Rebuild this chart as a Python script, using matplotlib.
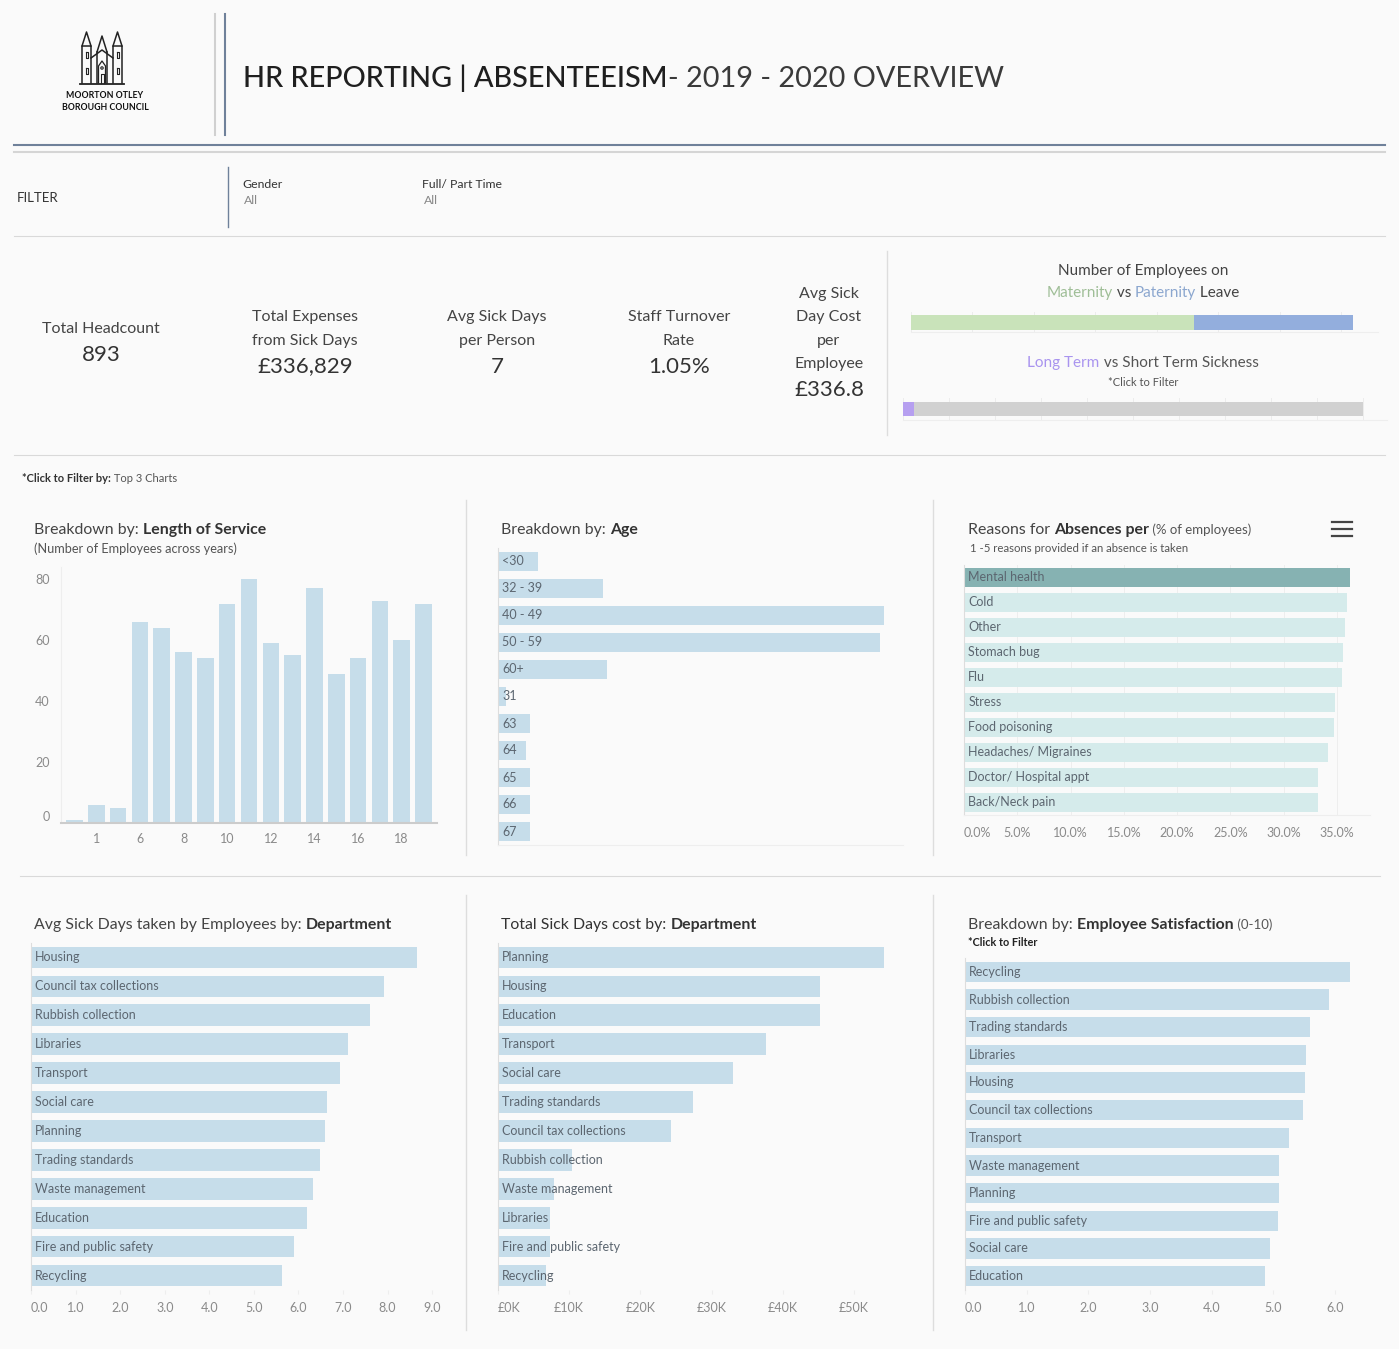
import numpy as np
import matplotlib
matplotlib.use("Agg")
import matplotlib.pyplot as plt
from matplotlib.lines import Line2D

plt.rcParams['font.family'] = ['Lato', 'DejaVu Sans']

# ---- data ----
kpi_labels = ['Total Headcount', 'Total Expenses\nfrom Sick Days', 'Avg Sick Days\nper Person',
              'Staff Turnover\nRate', 'Avg Sick\nDay Cost\nper\nEmployee']
kpi_values = ['893', '£336,829', '7', '1.05%', '£336.8']

leave_types = ['Maternity', 'Paternity']
leave_counts = [23, 13]

sick_types = ['Long Term', 'Short Term']
sick_counts = [24, 976]

service_years = ['0', '1', '3', '6', '7', '8', '9', '10', '11', '12', '13', '14', '15', '16', '17', '18', '19']
service_counts = [1, 6, 5, 66, 64, 56, 54, 72, 80, 59, 55, 77, 49, 54, 73, 60, 72]

age_groups = ['<30', '32 - 39', '40 - 49', '50 - 59', '60+', '31', '63', '64', '65', '66', '67']
age_counts = [10, 26, 96, 95, 27, 2, 8, 7, 8, 8, 8]

reasons = ['Mental health', 'Cold', 'Other', 'Stomach bug', 'Flu', 'Stress', 'Food poisoning',
           'Headaches/ Migraines', 'Doctor/ Hospital appt', 'Back/Neck pain']
reason_pct = [36.2, 35.9, 35.8, 35.6, 35.5, 34.8, 34.7, 34.2, 33.2, 33.2]

dept_days = ['Housing', 'Council tax collections', 'Rubbish collection', 'Libraries', 'Transport',
             'Social care', 'Planning', 'Trading standards', 'Waste management', 'Education',
             'Fire and public safety', 'Recycling']
avg_sick_days = [8.67, 7.93, 7.61, 7.12, 6.94, 6.65, 6.60, 6.49, 6.33, 6.20, 5.91, 5.64]

dept_cost = ['Planning', 'Housing', 'Education', 'Transport', 'Social care', 'Trading standards',
             'Council tax collections', 'Rubbish collection', 'Waste management', 'Libraries',
             'Fire and public safety', 'Recycling']
sick_cost_k = [54.2, 45.3, 45.3, 37.6, 33.0, 27.4, 24.3, 10.4, 7.9, 7.3, 7.3, 6.8]

dept_sat = ['Recycling', 'Rubbish collection', 'Trading standards', 'Libraries', 'Housing',
            'Council tax collections', 'Transport', 'Waste management', 'Planning',
            'Fire and public safety', 'Social care', 'Education']
satisfaction = [6.25, 5.90, 5.59, 5.53, 5.51, 5.48, 5.25, 5.09, 5.09, 5.07, 4.94, 4.86]

# ---- styling ----
W, H = 1399, 1349
BG = '#fafafa'
BAR = '#c6ddea'
DARK = '#333333'
TICK = '#8a8a8a'
SEP = '#d9d9d9'
NAVY = '#6f819a'
INBAR = '#5c6670'
TS = 11.4  # chart title size

fig = plt.figure(figsize=(W / 100, H / 100), dpi=100)
fig.patch.set_facecolor(BG)
renderer = fig.canvas.get_renderer()


def fx(x):
    return x / W


def fy(y):
    return 1 - y / H


def add_ax(left, top, right, bottom):
    ax = fig.add_axes([fx(left), fy(bottom), (right - left) / W, (bottom - top) / H])
    ax.set_facecolor('none')
    for s in ax.spines.values():
        s.set_visible(False)
    return ax


def hline(y, x0, x1, color=SEP, lw=0.8):
    fig.add_artist(Line2D([fx(x0), fx(x1)], [fy(y), fy(y)], color=color, lw=lw))


def vline(x, y0, y1, color=SEP, lw=0.8):
    fig.add_artist(Line2D([fx(x), fx(x)], [fy(y0), fy(y1)], color=color, lw=lw))


def rich(x, y, parts, ha='left'):
    # parts: list of (text, size, color, weight); y is the baseline in pixels
    widths = []
    for s, size, color, weight in parts:
        t = fig.text(0, 0, s, fontsize=size, fontweight=weight)
        widths.append(t.get_window_extent(renderer=renderer).width)
        t.remove()
    cur = x - sum(widths) / 2 if ha == 'center' else x
    for (s, size, color, weight), w in zip(parts, widths):
        fig.text(fx(cur), fy(y), s, fontsize=size, color=color, fontweight=weight, va='baseline')
        cur += w


# ---- header ----
lg = add_ax(78, 28, 126, 86)
lg.set_xlim(0, 48)
lg.set_ylim(58, 0)
lg.set_xticks([])
lg.set_yticks([])
kw = dict(color='#222222', lw=1.1)
for x0 in (4, 35):
    lg.plot([x0, x0 + 4.5, x0 + 9], [18, 4, 18], **kw)
    lg.plot([x0, x0, x0 + 9, x0 + 9], [55, 18, 18, 55], **kw)
    lg.plot([x0 + 3.5, x0 + 3.5, x0 + 5.5, x0 + 5.5, x0 + 3.5], [24, 30, 30, 24, 24], color='#222222', lw=0.8)
    lg.plot([x0 + 3.5, x0 + 3.5, x0 + 5.5, x0 + 5.5, x0 + 3.5], [40, 46, 46, 40, 40], color='#222222', lw=0.8)
lg.plot([19, 24, 29], [24, 8, 24], **kw)
lg.plot([13, 24, 35], [30, 22, 30], **kw)
lg.plot([19, 19], [24, 55], **kw)
lg.plot([29, 29], [24, 55], **kw)
lg.plot([20.5, 20.5, 24, 27.5, 27.5], [55, 38, 33, 38, 55], color='#222222', lw=0.9)
lg.plot([22.5, 22.5, 25.5, 25.5], [55, 46, 46, 55], color='#222222', lw=0.8)
lg.add_patch(plt.Circle((24, 40), 1.2, fill=False, color='#222222', lw=0.8))
lg.plot([2, 46], [55.5, 55.5], color='#222222', lw=1.3)
fig.text(fx(105), fy(95), 'MOORTON OTLEY', fontsize=6.3, color='#111111', ha='center', va='center', fontweight='bold')
fig.text(fx(105), fy(107), 'BOROUGH COUNCIL', fontsize=6.3, color='#111111', ha='center', va='center', fontweight='bold')

vline(215, 14, 135, color='#d0d0d0', lw=1.5)
vline(225, 14, 135, color=NAVY, lw=1.5)
rich(243, 87, [('HR REPORTING | ABSENTEEISM', 20.8, '#1f1f1f', 'medium'),
               ('- 2019 - 2020 OVERVIEW', 20.8, '#3a3a3a', 'normal')])
hline(145, 14, 1385, color=NAVY, lw=1.5)
hline(152, 14, 1385, color='#d5d5d5', lw=1.5)

# ---- filter strip ----
fig.text(fx(17), fy(198), 'FILTER', fontsize=9.5, color=DARK, va='center')
vline(228, 167, 227, color=NAVY, lw=1.0)
for x, lab in [(242, 'Gender'), (422, 'Full/ Part Time')]:
    fig.text(fx(x), fy(184), lab, fontsize=8.8, color=DARK, va='center')
    fig.text(fx(x + 2), fy(201), 'All', fontsize=8.8, color='#888888', va='center')
hline(236, 14, 1385)

# ---- KPIs ----
kpi_x = [101, 305, 497, 679, 829]
for x, lab, val in zip(kpi_x, kpi_labels, kpi_values):
    n = lab.count('\n') + 1
    fig.text(fx(x), fy(329), lab, fontsize=11.5, color='#444444', ha='center', va='center', linespacing=1.85)
    fig.text(fx(x), fy(329 + (n - 1) * 11.5 + 26), val, fontsize=16, color=DARK, ha='center', va='center')

vline(887, 251, 435, color='#dddddd', lw=1.0)

fig.text(fx(1143), fy(271), 'Number of Employees on', fontsize=11, color='#444444', ha='center', va='center')
rich(1143, 297, [('Maternity', 11, '#9fbe97', 'normal'), (' vs ', 11, '#444444', 'normal'),
                 ('Paternity', 11, '#8ca7cf', 'normal'), (' Leave', 11, '#444444', 'normal')], ha='center')

ax = add_ax(911, 312, 1378, 332)
ax.barh([0], [leave_counts[0]], height=0.75, color='#c9e3ba', zorder=2)
ax.barh([0], [leave_counts[1]], left=leave_counts[0], height=0.75, color='#93aedd', zorder=2)
ax.set_xlim(0, 38)
ax.set_ylim(-0.5, 0.5)
ax.set_xticks(np.arange(0, 40, 5))
ax.grid(axis='x', color='#ececec', lw=0.7, zorder=0)
ax.set_yticks([])
ax.tick_params(length=0, labelbottom=False)
ax.spines['bottom'].set_visible(True)
ax.spines['bottom'].set_color('#eeeeee')

rich(1143, 367, [('Long Term', 11, '#a994ef', 'normal'), (' vs Short Term Sickness', 11, '#555555', 'normal')], ha='center')
fig.text(fx(1143), fy(382), '*Click to Filter', fontsize=8, color='#555555', ha='center', va='center')

ax = add_ax(903, 398, 1387, 420)
ax.barh([0], [sick_counts[0]], height=0.65, color='#b69ff0', zorder=2)
ax.barh([0], [sick_counts[1]], left=sick_counts[0], height=0.65, color='#d1d1d1', zorder=2)
ax.set_xlim(0, 1052)
ax.set_ylim(-0.5, 0.5)
ax.set_xticks(np.arange(0, 1100, 100))
ax.grid(axis='x', color='#ececec', lw=0.7, zorder=0)
ax.set_yticks([])
ax.tick_params(length=0, labelbottom=False)
ax.spines['bottom'].set_visible(True)
ax.spines['bottom'].set_color('#eeeeee')

hline(455, 14, 1385)
rich(22, 482, [('*Click to Filter by:', 8, DARK, 'bold'), (' Top 3 Charts', 8, '#555555', 'normal')])

# ---- separators for chart grid ----
for x in (466, 933):
    vline(x, 500, 855, color='#dddddd', lw=1.0)
    vline(x, 895, 1330, color='#dddddd', lw=1.0)
hline(876, 20, 1380)


def hbar_chart(ax, labels, values, xmax, ticks, ticklabels, colors=None, height=0.75):
    y = np.arange(len(labels))
    ax.barh(y, values, height=height, color=colors if colors else BAR, zorder=2)
    ax.set_ylim(len(labels) - 0.5, -0.5)
    ax.set_xlim(0, xmax)
    ax.set_yticks([])
    for i, lab in enumerate(labels):
        ax.annotate(lab, xy=(0, i), xytext=(3, 0), textcoords='offset points', va='center', ha='left',
                    fontsize=9, color=INBAR, zorder=3)
    ax.set_xticks(ticks)
    ax.set_xticklabels(ticklabels)
    ax.tick_params(axis='x', length=3, color='#eeeeee', labelsize=9, labelcolor=TICK, pad=6)
    ax.get_xticklabels()[0].set_ha('left')
    ax.spines['left'].set_visible(True)
    ax.spines['left'].set_color('#dddddd')


# ---- Length of service ----
rich(34, 534, [('Breakdown by: ', TS, '#444444', 'normal'), ('Length of Service', TS, DARK, 'bold')])
fig.text(fx(34), fy(549), '(Number of Employees across years)', fontsize=9.2, color='#555555', va='center')
ax = add_ax(61, 567, 437, 823)
xs = np.arange(len(service_years))
ax.bar(xs, service_counts, width=0.76, color=BAR, zorder=2)
ax.set_xlim(-0.62, len(service_years) - 0.38)
ax.set_ylim(0, 84)
ax.set_yticks([0, 20, 40, 60, 80])
ax.set_xticks(xs[1::2])
ax.set_xticklabels(service_years[1::2])
ax.tick_params(axis='both', length=0, labelsize=9, labelcolor=TICK)
ax.tick_params(axis='y', pad=8)
ax.tick_params(axis='x', pad=7)
ax.get_yticklabels()[0].set_va('bottom')
ax.spines['left'].set_visible(True)
ax.spines['left'].set_color('#eeeeee')
ax.spines['bottom'].set_visible(True)
ax.spines['bottom'].set_color('#cccccc')
ax.spines['bottom'].set_linewidth(1.5)

# ---- Age ----
rich(501, 534, [('Breakdown by: ', TS, '#444444', 'normal'), ('Age', TS, DARK, 'bold')])
ax = add_ax(498, 548, 903, 845)
hbar_chart(ax, age_groups, age_counts, 100.6, [0], [''], height=0.73)
ax.tick_params(axis='x', length=0)
ax.spines['bottom'].set_visible(True)
ax.spines['bottom'].set_color('#eeeeee')

# ---- Reasons ----
rich(968, 534, [('Reasons for ', TS, '#444444', 'normal'), ('Absences per', TS, DARK, 'bold'),
                (' (% of employees)', 9.5, '#555555', 'normal')])
fig.text(fx(970), fy(548), '1 -5 reasons provided if an absence is taken', fontsize=8.2, color='#555555', va='center')
for yy in (522, 529, 536):
    hline(yy, 1332, 1352, color='#444444', lw=1.6)
ax = add_ax(964, 565, 1370, 815)
reason_colors = ['#86b2b2'] + ['#d5ebeb'] * (len(reasons) - 1)
hbar_chart(ax, reasons, reason_pct, 38.1, np.arange(0, 40, 5),
           ['%.1f%%' % t for t in np.arange(0, 40, 5)], colors=reason_colors, height=0.76)
ax.grid(axis='x', color='#eeeeee', lw=0.7, zorder=0)
ax.spines['bottom'].set_visible(True)
ax.spines['bottom'].set_color('#eeeeee')
ax.tick_params(axis='x', length=0, pad=9)

# ---- Avg sick days by department ----
rich(34, 929, [('Avg Sick Days taken by Employees by: ', TS, '#444444', 'normal'), ('Department', TS, DARK, 'bold')])
ax = add_ax(31, 943, 450, 1290)
hbar_chart(ax, dept_days, avg_sick_days, 9.4, np.arange(0, 10), ['%.1f' % t for t in range(10)], height=0.75)

# ---- Total cost by department ----
rich(501, 929, [('Total Sick Days cost by: ', TS, DARK, 'normal'), ('Department', TS, DARK, 'bold')])
ax = add_ax(498, 943, 903, 1290)
hbar_chart(ax, dept_cost, sick_cost_k, 56.9, np.arange(0, 60, 10), ['£%dK' % t for t in range(0, 60, 10)], height=0.75)

# ---- Satisfaction ----
rich(968, 929, [('Breakdown by: ', TS, '#444444', 'normal'), ('Employee Satisfaction', TS, DARK, 'bold'),
                (' (0-10)', 9.5, '#555555', 'normal')])
fig.text(fx(968), fy(942), '*Click to Filter', fontsize=7.8, color='#222222', va='center', fontweight='bold')
ax = add_ax(965, 958, 1375, 1290)
hbar_chart(ax, dept_sat, satisfaction, 6.65, np.arange(0, 7), ['%.1f' % t for t in range(7)], height=0.74)

fig.savefig('out.png', dpi=100, facecolor=BG)
